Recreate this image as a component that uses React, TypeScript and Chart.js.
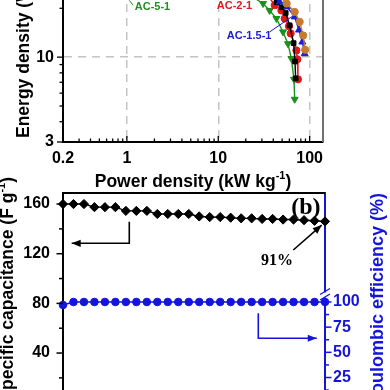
import { useEffect, useRef } from "react";
import { Chart, registerables } from "chart.js";

Chart.register(...registerables);

const SANS = "Arial, 'Liberation Sans', Helvetica, sans-serif";
const SERIF = "'Times New Roman', 'Liberation Serif', serif";

const GREEN = "#1e8e1e";
const RED = "#e0191b";
const BLUE = "#1c1cd0";
const BROWN = "#c67b30";
const BLACK = "#000000";
const AXIS_BLUE = "#1414dc";

// ---------- Panel (a): Ragone plot ----------
const ac51Power = [22.1, 30.9, 36.5, 43.3, 51.1, 57.9, 63.1, 67.4, 68.6];
const ac51Energy = [24.1, 21.4, 19.4, 17.3, 14.3, 12.1, 9.8, 7.3, 5.5];
const ac21Power = [34.8, 41.5, 49.1, 53.3, 59.4, 62.0, 71.6, 73.4, 74.5];
const ac21Energy = [24.1, 20.9, 19.4, 17.3, 15.5, 14.0, 11.0, 9.7, 7.3];
const acBlackPower = [36.5, 43.6, 49.4, 54.7, 60.4, 66.8, 69.1, 70.3];
const acBlackEnergy = [24.4, 21.8, 20.3, 18.7, 15.7, 12.2, 9.4, 7.4];
const ac151Power = [38.4, 47.0, 56.5, 68.6, 76.4, 83.2, 88.2];
const ac151Energy = [24.1, 21.9, 20.4, 17.7, 14.7, 12.4, 10.5];
const acBrownPower = [44.7, 56.1, 68.6, 77.8, 84.9, 89.3];
const acBrownEnergy = [24.4, 21.4, 19.0, 16.5, 13.6, 11.1];

const powerTicks = [0.2, 0.3, 0.4, 0.5, 0.6, 0.7, 0.8, 0.9, 1, 2, 3, 4, 5, 6, 7, 8, 9, 10, 20, 30, 40, 50, 60, 70, 80, 90, 100];
const powerLabels = [0.2, 1, 10, 100];
const powerGrid = [1, 10, 100];
const energyTicks = [3, 4, 5, 6, 7, 8, 9, 10, 20, 30, 40, 50, 60, 70];
const energyLabels = [3, 10];
const energyGrid = [10];

// ---------- Panel (b): cycling ----------
const cycles = [0, 200, 400, 600, 800, 1000, 1200, 1400, 1600, 1800, 2000, 2200, 2400, 2600, 2800, 3000, 3200, 3400, 3600, 3800, 4000, 4200, 4400, 4600, 4800, 5000];
const capacitance = [160, 160, 160, 157.5, 157.5, 157.5, 154.5, 154.5, 154.5, 152, 152, 152, 152, 150, 149.5, 149.5, 149, 148.5, 148.5, 148, 148, 147.5, 147.5, 147, 146.5, 146];
const efficiency = [97, 100, 100, 100, 100, 100, 100, 100, 100, 100, 100, 100, 100, 100, 100, 100, 100, 100, 100, 100, 100, 100, 100, 100, 100, 100];
const capTicks = [0, 20, 40, 60, 80, 100, 120, 140, 160];
const capLabels = [0, 40, 80, 120, 160];
const effTicks = [0, 12.5, 25, 37.5, 50, 62.5, 75, 87.5, 100];
const effLabels = [25, 50, 75, 100];

type Part = { t: string; sup?: boolean };

function drawRich(ctx: CanvasRenderingContext2D, parts: Part[], x: number, y: number, size: number, color: string, align: "left" | "center" | "right", family = SANS) {
  const main = `bold ${size}px ${family}`;
  const sup = `bold ${Math.round(size * 0.62)}px ${family}`;
  const widths = parts.map((p) => {
    ctx.font = p.sup ? sup : main;
    return ctx.measureText(p.t).width;
  });
  const total = widths.reduce((a, b) => a + b, 0);
  let cx = align === "center" ? x - total / 2 : align === "right" ? x - total : x;
  ctx.fillStyle = color;
  ctx.textAlign = "left";
  ctx.textBaseline = "middle";
  parts.forEach((p, i) => {
    ctx.font = p.sup ? sup : main;
    ctx.fillText(p.t, cx, p.sup ? y - size * 0.36 : y);
    cx += widths[i];
  });
}

function line(ctx: CanvasRenderingContext2D, x1: number, y1: number, x2: number, y2: number) {
  ctx.beginPath();
  ctx.moveTo(x1, y1);
  ctx.lineTo(x2, y2);
  ctx.stroke();
}

function arrow(ctx: CanvasRenderingContext2D, pts: number[][], color: string, head = 9) {
  ctx.strokeStyle = color;
  ctx.fillStyle = color;
  ctx.lineWidth = 1.6;
  ctx.beginPath();
  ctx.moveTo(pts[0][0], pts[0][1]);
  for (let i = 1; i < pts.length; i++) ctx.lineTo(pts[i][0], pts[i][1]);
  ctx.stroke();
  const [x1, y1] = pts[pts.length - 2];
  const [x2, y2] = pts[pts.length - 1];
  const a = Math.atan2(y2 - y1, x2 - x1);
  const w = head * 0.4;
  ctx.beginPath();
  ctx.moveTo(x2, y2);
  ctx.lineTo(x2 - head * Math.cos(a) + w * Math.sin(a), y2 - head * Math.sin(a) - w * Math.cos(a));
  ctx.lineTo(x2 - head * Math.cos(a) - w * Math.sin(a), y2 - head * Math.sin(a) + w * Math.cos(a));
  ctx.closePath();
  ctx.fill();
}

const topDecor = {
  id: "topDecor",
  afterDraw(chart: any) {
    const { ctx, chartArea: a, scales } = chart;
    const x = scales.x;
    const y = scales.y;
    ctx.save();
    ctx.strokeStyle = "#707070";
    ctx.lineWidth = 2;
    line(ctx, a.right, a.top, a.right, a.bottom);
    line(ctx, a.left, a.top, a.right, a.top);
    ctx.strokeStyle = "#000";
    ctx.lineWidth = 1.3;
    for (const v of powerTicks) {
      const px = x.getPixelForValue(v);
      const len = powerLabels.includes(v) ? 6 : 3.5;
      line(ctx, px, a.bottom, px, a.bottom - len);
    }
    for (const v of energyTicks) {
      const py = y.getPixelForValue(v);
      const len = energyLabels.includes(v) ? 6 : 3.5;
      line(ctx, a.left, py, a.left - len, py);
    }
    drawRich(ctx, [{ t: "Power density (kW kg" }, { t: "-1", sup: true }, { t: ")" }], (a.left + a.right) / 2, a.bottom + 40, 17.5, "#000", "center");
    ctx.save();
    ctx.translate(24, a.bottom - 4);
    ctx.rotate(-Math.PI / 2);
    drawRich(ctx, [{ t: "Energy density (Wh kg" }, { t: "-1", sup: true }, { t: ")" }], 0, 0, 17.5, "#000", "left");
    ctx.restore();
    ctx.font = `bold 11px ${SANS}`;
    ctx.textAlign = "left";
    ctx.textBaseline = "middle";
    ctx.fillStyle = GREEN;
    ctx.fillText("AC-5-1", x.getPixelForValue(1.22), y.getPixelForValue(20.3));
    ctx.fillStyle = RED;
    ctx.fillText("AC-2-1", x.getPixelForValue(9.63), y.getPixelForValue(20.6));
    ctx.fillStyle = BLUE;
    ctx.fillText("AC-1.5-1", x.getPixelForValue(12.4), y.getPixelForValue(13.5));
    ctx.lineWidth = 1;
    ctx.strokeStyle = GREEN;
    line(ctx, x.getPixelForValue(1.06), y.getPixelForValue(22.4), x.getPixelForValue(1.17), y.getPixelForValue(20.9));
    ctx.strokeStyle = BLUE;
    line(ctx, x.getPixelForValue(36.5), y.getPixelForValue(14.3), x.getPixelForValue(65.2), y.getPixelForValue(17.9));
    ctx.restore();
  },
};

const bottomDecor = {
  id: "bottomDecor",
  afterDraw(chart: any) {
    const { ctx, chartArea: a, scales } = chart;
    const x = scales.x;
    const y = scales.y;
    const y1 = scales.y1;
    ctx.save();
    ctx.strokeStyle = "#000";
    ctx.lineWidth = 2;
    line(ctx, a.left - 1, a.top, a.right, a.top);
    ctx.lineWidth = 1.5;
    for (const v of capTicks) {
      const py = y.getPixelForValue(v);
      const len = v % 40 === 0 ? 6.5 : 4;
      line(ctx, a.left, py, a.left - len, py);
    }
    ctx.strokeStyle = AXIS_BLUE;
    for (const v of effTicks) {
      const py = y1.getPixelForValue(v);
      const len = v % 25 === 0 ? 6.5 : 4;
      line(ctx, a.right, py, a.right + len, py);
    }
    const pb = y1.getPixelForValue(107);
    ctx.fillStyle = "#fff";
    ctx.fillRect(a.right - 3, pb - 2.5, 6, 5);
    ctx.lineWidth = 1.2;
    ctx.strokeStyle = AXIS_BLUE;
    line(ctx, a.right - 5, pb - 0.5, a.right + 5, pb - 6.5);
    line(ctx, a.right - 5, pb + 5, a.right + 5, pb - 1);
    arrow(ctx, [[x.getPixelForValue(1265), y.getPixelForValue(145.8)], [x.getPixelForValue(1265), y.getPixelForValue(128.4)], [x.getPixelForValue(166), y.getPixelForValue(128.4)]], "#000");
    arrow(ctx, [[x.getPixelForValue(3727), y1.getPixelForValue(88.8)], [x.getPixelForValue(3727), y1.getPixelForValue(64.0)], [x.getPixelForValue(4842), y1.getPixelForValue(64.0)]], AXIS_BLUE);
    arrow(ctx, [[x.getPixelForValue(4395), y.getPixelForValue(123.0)], [x.getPixelForValue(4937), y.getPixelForValue(143.1)]], "#000");
    ctx.fillStyle = "#000";
    ctx.textAlign = "center";
    ctx.textBaseline = "middle";
    ctx.font = `bold 16px ${SERIF}`;
    ctx.fillText("91%", x.getPixelForValue(4084), y.getPixelForValue(114.0));
    ctx.font = `bold 24px ${SERIF}`;
    ctx.fillText("(b)", x.getPixelForValue(4634), y.getPixelForValue(157.2));
    ctx.save();
    ctx.translate(8, a.top - 16);
    ctx.rotate(-Math.PI / 2);
    drawRich(ctx, [{ t: "Specific capacitance (F g" }, { t: "-1", sup: true }, { t: ")" }], 0, 0, 17.5, "#000", "right");
    ctx.restore();
    ctx.save();
    ctx.translate(378, a.top);
    ctx.rotate(-Math.PI / 2);
    drawRich(ctx, [{ t: "Coulombic efficiency (%)" }], 0, 0, 18, AXIS_BLUE, "right");
    ctx.restore();
    ctx.restore();
  },
};

function series(px: number[], py: number[], color: string, style: string, rot = 0, r = 3.6) {
  return {
    data: px.map((p, i) => ({ x: p, y: py[i] })),
    borderColor: color,
    backgroundColor: color,
    pointBackgroundColor: color,
    pointBorderColor: color,
    pointStyle: style,
    pointRotation: rot,
    pointRadius: r,
    pointBorderWidth: 1,
    borderWidth: 1.4,
    showLine: true,
  };
}

export default function App() {
  const topRef = useRef<HTMLCanvasElement>(null);
  const botRef = useRef<HTMLCanvasElement>(null);

  useEffect(() => {
    const tickFont = { family: SANS, size: 16, weight: "bold" as const };
    const top = new Chart(topRef.current!, {
      type: "scatter",
      data: {
        datasets: [
          series(acBrownPower, acBrownEnergy, BROWN, "circle"),
          series(ac151Power, ac151Energy, BLUE, "triangle", 0, 4),
          series(acBlackPower, acBlackEnergy, BLACK, "rect", 0, 3.3),
          series(ac21Power, ac21Energy, RED, "circle"),
          series(ac51Power, ac51Energy, GREEN, "triangle", 180, 4),
        ] as any,
      },
      options: {
        responsive: false,
        maintainAspectRatio: false,
        animation: false,
        devicePixelRatio: 1,
        layout: { padding: { top: 20, right: 67, left: 0, bottom: 0 } },
        plugins: { legend: { display: false }, tooltip: { enabled: false } },
        scales: {
          x: {
            type: "logarithmic",
            min: 0.2,
            max: 140,
            afterFit: (s: any) => { s.height = 58; },
            afterBuildTicks: (s: any) => { s.ticks = powerTicks.map((v) => ({ value: v })); },
            ticks: {
              autoSkip: false,
              maxRotation: 0,
              padding: 7,
              color: "#000",
              font: tickFont,
              callback: (v: any) => (powerLabels.includes(Number(v)) ? String(v) : ""),
            },
            grid: {
              drawTicks: false,
              lineWidth: 1.5,
              color: (c: any) => (c.tick && powerGrid.includes(c.tick.value) ? "#c4c4c4" : "rgba(0,0,0,0)"),
            },
            border: { color: "#000", width: 2, dash: [8, 6] },
          },
          y: {
            type: "logarithmic",
            min: 3,
            max: 70,
            afterFit: (s: any) => { s.width = 63; },
            afterBuildTicks: (s: any) => { s.ticks = energyTicks.map((v) => ({ value: v })); },
            ticks: {
              autoSkip: false,
              padding: 9,
              color: "#000",
              font: tickFont,
              callback: (v: any) => (energyLabels.includes(Number(v)) ? String(v) : ""),
            },
            grid: {
              drawTicks: false,
              lineWidth: 1.5,
              color: (c: any) => (c.tick && energyGrid.includes(c.tick.value) ? "#c4c4c4" : "rgba(0,0,0,0)"),
            },
            border: { color: "#000", width: 2, dash: [8, 6] },
          },
        },
      },
      plugins: [topDecor],
    } as any);

    const bot = new Chart(botRef.current!, {
      type: "scatter",
      data: {
        datasets: [
          { ...series(cycles, capacitance, BLACK, "rectRot", 0, 4.6), yAxisID: "y", clip: false },
          { ...series(cycles, efficiency, AXIS_BLUE, "circle", 0, 3.8), yAxisID: "y1", clip: false },
        ] as any,
      },
      options: {
        responsive: false,
        maintainAspectRatio: false,
        animation: false,
        devicePixelRatio: 1,
        layout: { padding: { top: 193, right: 0, left: 0, bottom: 37.3 } },
        plugins: { legend: { display: false }, tooltip: { enabled: false } },
        scales: {
          x: { type: "linear", min: 0, max: 5000, display: false },
          y: {
            position: "left",
            min: 0,
            max: 168.9,
            afterFit: (s: any) => { s.width = 63; },
            afterBuildTicks: (s: any) => { s.ticks = capTicks.map((v) => ({ value: v })); },
            ticks: {
              autoSkip: false,
              padding: 13,
              color: "#000",
              font: tickFont,
              callback: (v: any) => (capLabels.includes(Number(v)) ? String(v) : ""),
            },
            grid: { display: false, drawTicks: false },
            border: { color: "#000", width: 2 },
          },
          y1: {
            position: "right",
            min: 0,
            max: 208.2,
            afterFit: (s: any) => { s.width = 65; },
            afterBuildTicks: (s: any) => { s.ticks = effTicks.map((v) => ({ value: v })); },
            ticks: {
              autoSkip: false,
              padding: 8,
              color: AXIS_BLUE,
              font: { family: SANS, size: 16, weight: "bold" },
              callback: (v: any) => (effLabels.includes(Number(v)) ? String(v) : ""),
            },
            grid: { display: false, drawTicks: false },
            border: { color: AXIS_BLUE, width: 2 },
          },
        },
      },
      plugins: [bottomDecor],
    } as any);

    return () => {
      top.destroy();
      bot.destroy();
    };
  }, []);

  return (
    <div style={{ position: "fixed", left: 0, top: 0, width: 390, height: 390, overflow: "hidden", background: "#fff" }}>
      <canvas ref={botRef} width={390} height={440} style={{ position: "absolute", left: 0, top: 0, width: 390, height: 440 }} />
      <canvas ref={topRef} width={390} height={300} style={{ position: "absolute", left: 0, top: -100, width: 390, height: 300 }} />
    </div>
  );
}
